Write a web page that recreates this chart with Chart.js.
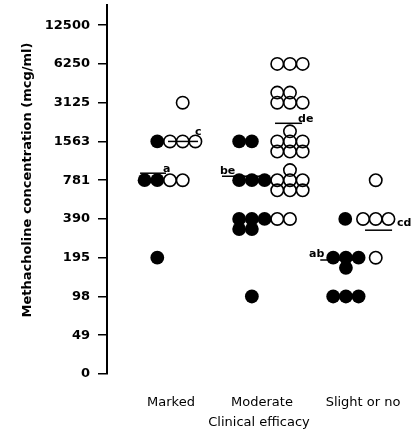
<!DOCTYPE html>
<html><head><meta charset="utf-8">
<script src="https://cdn.jsdelivr.net/npm/chart.js@4"></script>
<style>html,body{margin:0;padding:0;background:#fff}</style>
</head><body>
<canvas id="c" width="411" height="433"></canvas>
<script>
// ---- data ----
const levels = ['0','49','98','195','390','781','1563','3125','6250','12500'];
const categories = ['Marked','Moderate','Slight or no'];
const markedFilled = [1563, 781, 781, 195];
const markedOpen = [3125, 1563, 1563, 1563, 781, 781];
const moderateFilled = [1563, 1563, 781, 781, 781, 390, 390, 390, 390, 390, 98];
const moderateOpen = [6250, 6250, 6250, 3125, 3125, 3125, 3125, 3125,
  1563, 1563, 1563, 1563, 1563, 1563, 1563,
  781, 781, 781, 781, 781, 781, 781, 390, 390];
const slightFilled = [390, 195, 195, 195, 195, 98, 98, 98];
const slightOpen = [781, 390, 390, 390, 195];
const meanLetters = ['a', 'c', 'be', 'de', 'ab', 'cd'];
const meanValues = [885, 1563, 837, 2162, 188, 319];
const meanCats = [0, 0, 1, 1, 2, 2];

// ---- layout (positions, separate from values) ----
const categoryPos = [1, 2, 3.11];
const catShift = [-0.08, 0.2, 0];
const dotStep = 12.7 / 91;
const rowStep = 0.26;
const groups = [
  {cat: 0, filled: true,  values: markedFilled,   cols: [-1, -2, -1, -1], rows: [0, 0, 0, 0]},
  {cat: 0, filled: false, values: markedOpen,     cols: [1, 0, 1, 2, 0, 1], rows: [0, 0, 0, 0, 0, 0]},
  {cat: 1, filled: true,  values: moderateFilled, cols: [-2, -1, -2, -1, 0, -2, -1, 0, -2, -1, -1], rows: [0, 0, 0, 0, 0, 0, 0, 0, -1, -1, 0]},
  {cat: 1, filled: false, values: moderateOpen,
    cols: [1, 2, 3, 1, 2, 1, 2, 3, 2, 1, 2, 3, 1, 2, 3, 2, 1, 2, 3, 1, 2, 3, 1, 2],
    rows: [0, 0, 0, 1, 1, 0, 0, 0, 1, 0, 0, 0, -1, -1, -1, 1, 0, 0, 0, -1, -1, -1, 0, 0]},
  {cat: 2, filled: true,  values: slightFilled,   cols: [-1.4, -2.35, -1.35, -0.35, -1.35, -2.35, -1.35, -0.35], rows: [0, 0, 0, 0, -1, 0, 0, 0]},
  {cat: 2, filled: false, values: slightOpen,     cols: [1, 0, 1, 2, 1], rows: [0, 0, 0, 0, 0]}
];
const meanSpans = [[-0.34, -0.055], [-0.033, 0.297], [-0.44, 0.044], [0.143, 0.44], [-0.47, -0.033], [0.022, 0.319]];
const labelAnchor = ['end', 'end', 'start', 'end', 'start', 'end'];
const labelAlign = ['left', 'left', 'left', 'left', 'right', 'left'];
const labelOffset = [[-3, -1], [-3, -6], [-2, -2], [-4, -1], [4, -3], [5, -4]];

function toLevel(v) {
  let i = levels.length - 1;
  while (i > 1 && Number(levels[i]) > v) i--;
  return i + Math.log2(v / Number(levels[i]));
}

const datasets = [];
meanValues.forEach((mv, i) => {
  const c = categoryPos[meanCats[i]];
  const y = toLevel(mv);
  datasets.push({type: 'line', data: [{x: c + meanSpans[i][0], y}, {x: c + meanSpans[i][1], y}],
    borderColor: '#000', borderWidth: 1.5, pointRadius: 0, order: 2, clip: false});
});
groups.forEach(g => {
  datasets.push({type: 'scatter',
    data: g.values.map((v, k) => ({x: categoryPos[g.cat] + (catShift[g.cat] + g.cols[k]) * dotStep, y: toLevel(v) + g.rows[k] * rowStep})),
    pointRadius: g.filled ? 6.9 : 6.2, pointHoverRadius: g.filled ? 6.9 : 6.2,
    backgroundColor: g.filled ? '#000' : 'rgba(0,0,0,0)', borderColor: '#000',
    borderWidth: g.filled ? 0 : 1.6, order: 1, clip: false});
});

const labelPlugin = {
  id: 'labels',
  afterDatasetsDraw(chart) {
    const ctx = chart.ctx, xs = chart.scales.x, ys = chart.scales.y;
    ctx.save();
    ctx.fillStyle = '#000';
    ctx.font = 'bold 11px "DejaVu Sans"';
    ctx.textBaseline = 'alphabetic';
    meanLetters.forEach((t, i) => {
      const c = categoryPos[meanCats[i]];
      const xv = c + (labelAnchor[i] === 'start' ? meanSpans[i][0] : meanSpans[i][1]);
      const px = xs.getPixelForValue(xv), py = ys.getPixelForValue(toLevel(meanValues[i]));
      ctx.textAlign = labelAlign[i];
      ctx.fillText(t, px + labelOffset[i][0], py + labelOffset[i][1]);
    });
    ctx.restore();
  },
  afterDraw(chart) {
    const ctx = chart.ctx;
    ctx.save();
    ctx.translate(28, 180);
    ctx.rotate(-Math.PI / 2);
    ctx.font = 'bold 13px "DejaVu Sans"';
    ctx.fillStyle = '#000';
    ctx.textAlign = 'center';
    ctx.textBaseline = 'middle';
    ctx.fillText('Methacholine concentration (mcg/ml)', 0, 0);
    ctx.restore();
  }
};

new Chart(document.getElementById('c'), {
  type: 'scatter',
  data: {datasets},
  options: {
    responsive: false, animation: false, devicePixelRatio: 1,
    layout: {autoPadding: false, padding: {top: 5, left: 0, right: 0, bottom: 0}},
    plugins: {legend: {display: false}, tooltip: {enabled: false}},
    scales: {
      x: {type: 'linear', min: 0.2967, max: 3.637,
        afterFit(s) { s.height = 59; s.paddingLeft = 0; s.paddingRight = 0; },
        afterBuildTicks(s) { s.ticks = categoryPos.map(v => ({value: v})); },
        ticks: {callback: (v, i) => categories[i], font: {family: 'DejaVu Sans', size: 13}, color: '#000', padding: 13, maxRotation: 0, autoSkip: false},
        grid: {display: false}, border: {display: false},
        title: {display: true, text: 'Clinical efficacy', font: {family: 'DejaVu Sans', size: 13}, color: '#000', padding: {top: 0, bottom: 3}}
      },
      y: {type: 'linear', min: 0, max: 9.52,
        afterFit(s) { s.width = 107; s.paddingTop = 0; s.paddingBottom = 0; },
        afterBuildTicks(s) { s.ticks = levels.map((_, i) => ({value: i})); },
        ticks: {callback: (v) => levels[v], font: {family: 'DejaVu Sans', size: 13, weight: 'bold'}, color: '#000', padding: 8, autoSkip: false},
        grid: {display: true, drawOnChartArea: false, drawTicks: true, tickLength: 9, color: '#000', lineWidth: 1.5},
        border: {display: true, color: '#000', width: 2}
      }
    }
  },
  plugins: [labelPlugin]
});
</script>
</body></html>
